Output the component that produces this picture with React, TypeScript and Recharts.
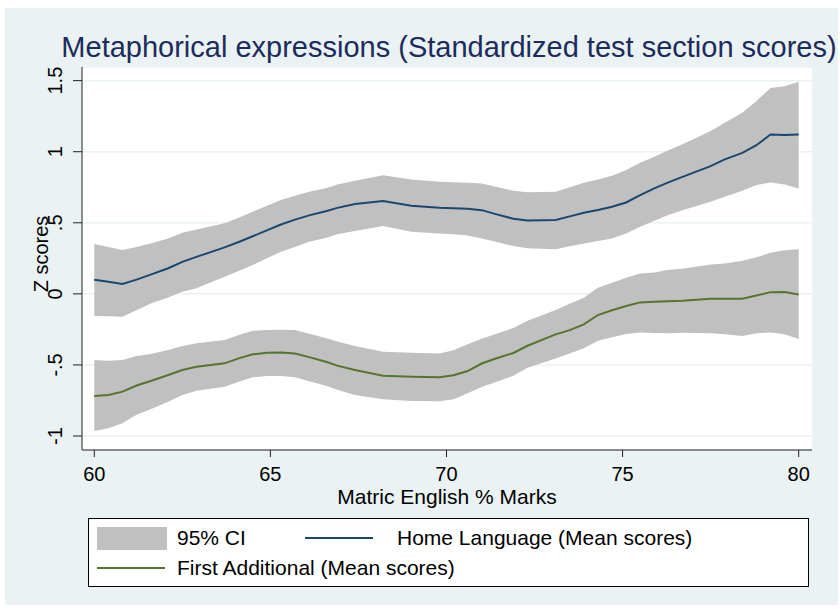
import React from "react";
import {
  ComposedChart,
  Area,
  Line,
  XAxis,
  YAxis,
  CartesianGrid,
} from "recharts";

// Matric English % marks (evaluation points of the smoother)
const marks = [
  60, 60.4, 60.8, 61.2, 61.6, 62.1, 62.5, 62.9, 63.7, 64.1, 64.5, 64.9, 65.3, 65.7,
  66.1, 66.6, 66.9, 67.4, 68.2, 69.0, 69.8, 70.2, 70.6, 71.0, 71.4, 71.9, 72.3,
  73.1, 73.5, 73.9, 74.3, 74.7, 75.1, 75.5, 75.9, 76.3, 76.7, 77.5, 77.9, 78.4,
  78.8, 79.2, 79.6, 80,
];

// Home Language: mean z score and 95% CI
const homeMean = [
  0.1, 0.085, 0.07, 0.1, 0.135, 0.18, 0.225, 0.26, 0.327, 0.365, 0.405, 0.447, 0.488, 0.522,
  0.552, 0.583, 0.605, 0.632, 0.653, 0.62, 0.606, 0.602, 0.598, 0.589, 0.561, 0.528, 0.516,
  0.519, 0.545, 0.57, 0.59, 0.613, 0.643, 0.695, 0.742, 0.784, 0.823, 0.899, 0.946, 0.992,
  1.046, 1.121, 1.117, 1.121,
];
const homeHi = [
  0.35, 0.33, 0.308, 0.33, 0.355, 0.39, 0.43, 0.453, 0.496, 0.535, 0.578, 0.62, 0.66, 0.69,
  0.718, 0.745, 0.77, 0.795, 0.835, 0.805, 0.788, 0.785, 0.782, 0.777, 0.753, 0.725, 0.714,
  0.718, 0.75, 0.781, 0.805, 0.831, 0.871, 0.922, 0.965, 1.011, 1.053, 1.145, 1.203, 1.274,
  1.356, 1.449, 1.461, 1.492,
];
const homeLo = [
  -0.156, -0.158, -0.161, -0.115, -0.067, -0.025, 0.015, 0.039, 0.12, 0.16, 0.203, 0.25, 0.296, 0.33,
  0.366, 0.395, 0.42, 0.442, 0.477, 0.437, 0.425, 0.42, 0.41, 0.39, 0.366, 0.336, 0.32,
  0.313, 0.335, 0.355, 0.372, 0.39, 0.425, 0.472, 0.515, 0.554, 0.589, 0.648, 0.683, 0.725,
  0.765, 0.784, 0.77, 0.742,
];

// First Additional: mean z score and 95% CI
const faMean = [
  -0.719, -0.712, -0.688, -0.645, -0.613, -0.571, -0.536, -0.513, -0.489, -0.454, -0.425, -0.414, -0.412, -0.419,
  -0.445, -0.479, -0.505, -0.536, -0.576, -0.583, -0.587, -0.573, -0.543, -0.49, -0.455, -0.416, -0.365,
  -0.285, -0.255, -0.215, -0.149, -0.115, -0.086, -0.06, -0.055, -0.052, -0.048, -0.034, -0.034, -0.034,
  -0.012, 0.012, 0.013, -0.004,
];
const faHi = [
  -0.466, -0.47, -0.466, -0.437, -0.423, -0.395, -0.367, -0.348, -0.325, -0.29, -0.26, -0.255, -0.252, -0.255,
  -0.28, -0.313, -0.335, -0.367, -0.407, -0.414, -0.419, -0.397, -0.355, -0.315, -0.282, -0.24, -0.19,
  -0.114, -0.07, -0.027, 0.043, 0.078, 0.113, 0.144, 0.151, 0.17, 0.177, 0.207, 0.214, 0.233,
  0.257, 0.289, 0.306, 0.313,
];
const faLo = [
  -0.965, -0.946, -0.911, -0.85, -0.812, -0.759, -0.712, -0.681, -0.653, -0.618, -0.587, -0.578, -0.578, -0.587,
  -0.615, -0.648, -0.675, -0.712, -0.742, -0.754, -0.756, -0.742, -0.7, -0.655, -0.62, -0.576, -0.52,
  -0.454, -0.42, -0.383, -0.33, -0.305, -0.283, -0.271, -0.275, -0.278, -0.274, -0.278, -0.285, -0.297,
  -0.278, -0.271, -0.285, -0.318,
];

const xTicks = [60, 65, 70, 75, 80];
const yTicks = [-1, -0.5, 0, 0.5, 1, 1.5];

const data = marks.map((x, i) => ({
  x,
  homeBand: [homeLo[i], homeHi[i]],
  home: homeMean[i],
  faBand: [faLo[i], faHi[i]],
  fa: faMean[i],
}));

const FONT = "'Liberation Sans', Arial, sans-serif";
const BG = "#eaf2f3";
const CI = "#c0c0c0";
const NAVY = "#1a476f";
const GREEN = "#55752f";

const fmtY = (v: number) => String(v).replace(/^(-?)0\./, "$1.");

const YTick = (props: any) => {
  const { y, payload } = props;
  return (
    <text
      transform={`translate(62, ${y}) rotate(-90)`}
      textAnchor="middle"
      fontSize={20}
      fontFamily={FONT}
      fill="#000"
    >
      {fmtY(payload.value)}
    </text>
  );
};

const XTick = (props: any) => {
  const { x, payload } = props;
  return (
    <text x={x} y={481} textAnchor="middle" fontSize={20} fontFamily={FONT} fill="#000">
      {payload.value}
    </text>
  );
};

const LegendBox = () => (
  <div
    style={{
      position: "absolute",
      left: 88,
      top: 518,
      width: 721,
      height: 69,
      background: "#fff",
      border: "1px solid #000",
      boxSizing: "border-box",
      fontFamily: FONT,
      fontSize: 21,
      color: "#000",
    }}
  >
    <div style={{ position: "absolute", left: 8, top: 8, width: 70, height: 23, background: CI }} />
    <div style={{ position: "absolute", left: 88, top: 6, lineHeight: "26px" }}>95% CI</div>
    <div style={{ position: "absolute", left: 216, top: 18, width: 68, height: 2, background: NAVY }} />
    <div style={{ position: "absolute", left: 308, top: 6, lineHeight: "26px" }}>Home Language (Mean scores)</div>
    <div style={{ position: "absolute", left: 8, top: 48, width: 68, height: 2, background: GREEN }} />
    <div style={{ position: "absolute", left: 88, top: 36, lineHeight: "26px" }}>First Additional (Mean scores)</div>
  </div>
);

export default function App() {
  return (
    <div style={{ position: "absolute", left: 0, top: 0, width: 840, height: 609, background: "#fff" }}>
      <div style={{ position: "absolute", left: 5, top: 8, width: 833, height: 597, background: BG }} />
      <div style={{ position: "absolute", left: 0, top: 0 }}>
        <ComposedChart
          width={840}
          height={609}
          data={data}
          margin={{ top: 67, right: 28, left: 0, bottom: 119 }}
        >
          <text x={449} y={57} textAnchor="middle" fontSize={29} fontFamily={FONT} fill="#1c2c5c">
            Metaphorical expressions (Standardized test section scores)
          </text>
          <CartesianGrid
            vertical={false}
            fill="#fff"
            stroke={BG}
            strokeWidth={1.5}
          />
          <XAxis
            type="number"
            dataKey="x"
            domain={[59.651, 80.378]}
            allowDataOverflow
            ticks={xTicks}
            height={40}
            tickSize={7}
            stroke="#222"
            tick={<XTick />}
            label={(p: any) => (
              <text x={447} y={504} textAnchor="middle" fontSize={21} fontFamily={FONT} fill="#000">
                Matric English % Marks
              </text>
            )}
          />
          <YAxis
            type="number"
            domain={[-1.0985, 1.596]}
            allowDataOverflow
            ticks={yTicks}
            width={82}
            tickSize={9}
            stroke="#222"
            tick={<YTick />}
            label={(p: any) => (
              <text
                transform="translate(48, 254) rotate(-90)"
                textAnchor="middle"
                fontSize={20}
                fontFamily={FONT}
                fill="#000"
              >
                Z scores
              </text>
            )}
          />
          <Area
            type="linear"
            dataKey="homeBand"
            fill={CI}
            fillOpacity={1}
            stroke="none"
            isAnimationActive={false}
          />
          <Area
            type="linear"
            dataKey="faBand"
            fill={CI}
            fillOpacity={1}
            stroke="none"
            isAnimationActive={false}
          />
          <Line
            type="linear"
            dataKey="home"
            stroke={NAVY}
            strokeWidth={2}
            dot={false}
            isAnimationActive={false}
          />
          <Line
            type="linear"
            dataKey="fa"
            stroke={GREEN}
            strokeWidth={2}
            dot={false}
            isAnimationActive={false}
          />
        </ComposedChart>
      </div>
      <LegendBox />
    </div>
  );
}
